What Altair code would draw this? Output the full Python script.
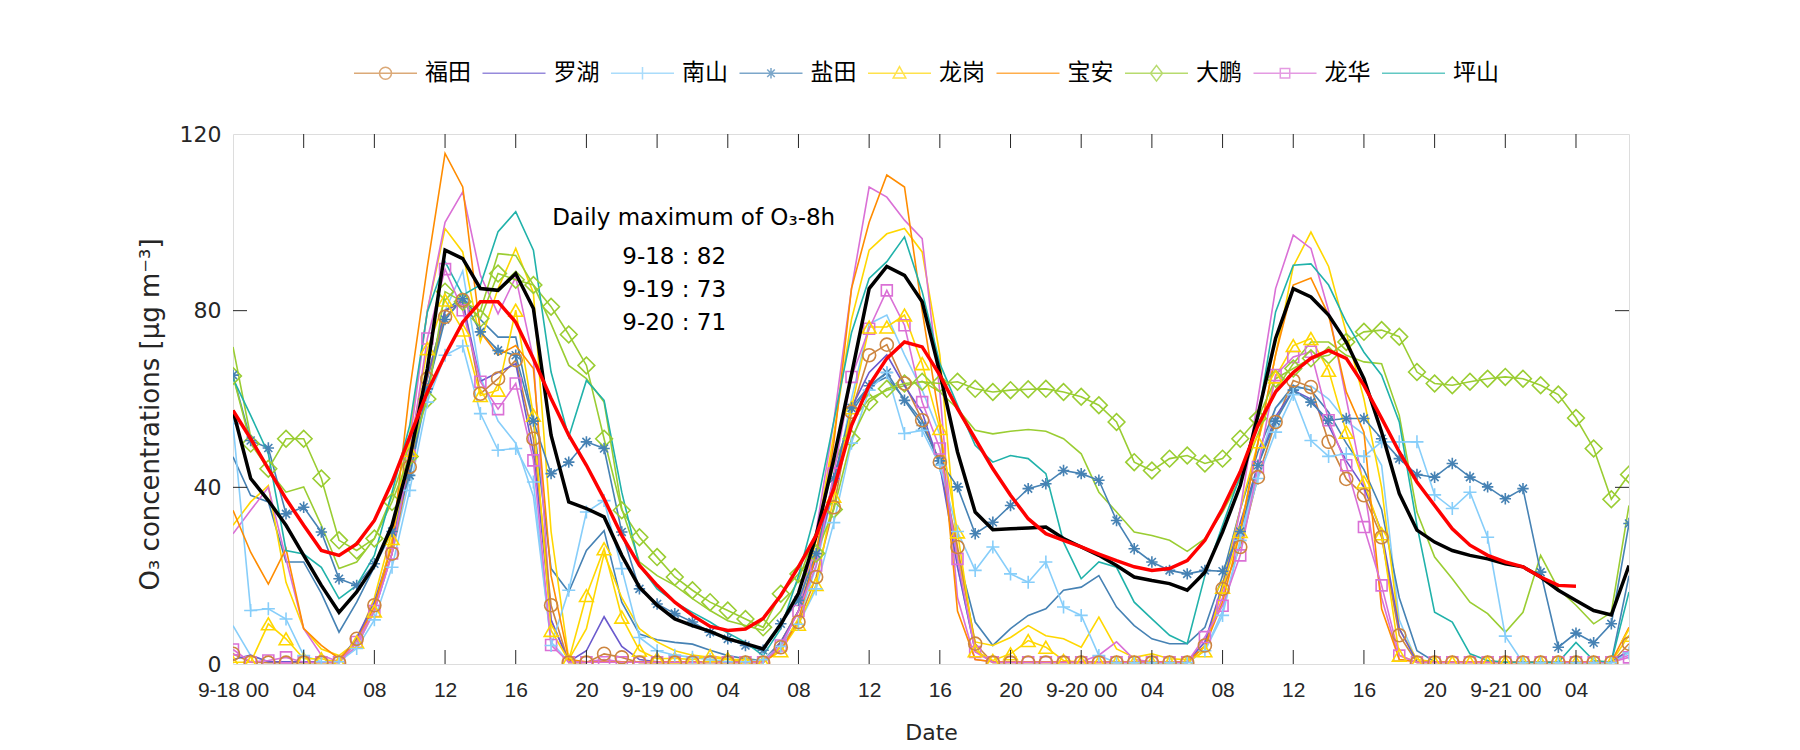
import altair as alt
import pandas as pd

# ---------------- axis ticks ----------------
hours = list(range(80))  # 9-18 00:00 ... 9-21 07:00
x_ticks = [0, 4, 8, 12, 16, 20, 24, 28, 32, 36, 40, 44, 48, 52, 56, 60, 64, 68, 72, 76]
x_tick_labels = ["9-18 00", "04", "08", "12", "16", "20",
                 "9-19 00", "04", "08", "12", "16", "20",
                 "9-20 00", "04", "08", "12", "16", "20",
                 "9-21 00", "04"]
y_ticks = [0, 40, 80, 120]

stations = ["福田", "罗湖", "南山", "盐田", "龙岗", "宝安", "大鹏", "龙华", "坪山"]
station_colors = ["#CD853F", "#6A5ACD", "#87CEFA", "#4682B4", "#FFD700",
                  "#FF8C00", "#9ACD32", "#DA70D6", "#20B2AA"]

# ---------------- station series (hourly O3) ----------------
futian = [2.3, 0.4, 0.3, 0.3, 0.3, 0.3, 0.3, 5.7, 13.3, 25.0,
          44.6, 64.6, 78.6, 82.4, 61.2, 64.6, 68.8, 51.0, 13.3, 0.3,
          0.3, 2.3, 1.5, 0.3, 0.3, 0.3, 0.3, 0.3, 0.3, 0.3,
          0.3, 3.8, 9.5, 19.7, 35.5, 57.1, 69.9, 72.3, 63.5, 55.2,
          45.7, 26.5, 4.6, 0.3, 0.3, 0.3, 0.3, 0.3, 0.3, 0.3,
          0.3, 0.3, 0.3, 0.3, 0.3, 4.2, 17.0, 26.5, 42.3, 54.8,
          64.2, 62.7, 50.3, 41.9, 38.2, 28.7, 6.5, 0.3, 0.3, 0.3,
          0.3, 0.3, 0.3, 0.3, 0.3, 0.3, 0.3, 0.3, 0.3, 4.6]
luohu = [1.0, 2.0, 0.5, 0.5, 0.5, 0.5, 0.5, 6.0, 14.0, 27.0,
         46.0, 65.0, 80.0, 82.0, 64.0, 66.0, 68.0, 48.0, 10.0, 0.5,
         3.0, 10.7, 4.0, 1.0, 0.5, 0.5, 0.5, 0.5, 0.5, 0.5,
         0.5, 5.0, 12.0, 24.0, 40.0, 58.0, 66.0, 70.0, 63.0, 57.0,
         45.0, 22.0, 3.0, 0.5, 0.5, 0.5, 0.5, 0.5, 0.5, 0.5,
         0.5, 0.5, 0.5, 0.5, 0.5, 5.0, 18.0, 32.0, 45.0, 56.0,
         62.0, 60.0, 54.0, 46.0, 40.0, 30.0, 8.0, 0.5, 0.5, 0.5,
         0.5, 0.5, 0.5, 0.5, 0.5, 0.5, 0.5, 0.5, 0.5, 3.0]
nanshan = [54.4, 12.1, 12.5, 10.2, 1.9, 0.5, 0.5, 3.5, 10.0, 21.9,
           39.3, 59.3, 69.9, 72.0, 56.7, 48.4, 48.8, 41.2, 4.2, 16.7,
           34.4, 37.0, 21.6, 6.0, 3.0, 2.0, 1.5, 1.0, 0.5, 0.5,
           1.0, 4.0, 9.0, 17.0, 32.0, 50.0, 62.0, 66.0, 52.2, 52.9,
           45.0, 30.0, 21.2, 26.5, 20.4, 18.5, 23.1, 12.9, 11.0, 1.9,
           0.3, 0.3, 0.3, 0.3, 0.3, 3.0, 11.0, 28.0, 42.0, 52.5,
           61.0, 50.6, 47.0, 47.6, 47.0, 50.3, 50.3, 50.3, 38.3, 35.2,
           38.9, 28.7, 6.3, 0.3, 0.3, 0.3, 0.3, 0.3, 0.3, 2.5]
yantian = [65.4, 50.6, 48.9, 34.0, 35.5, 29.9, 19.3, 17.8, 22.7, 30.0,
           42.7, 62.3, 78.0, 82.7, 75.2, 71.0, 69.9, 55.0, 43.1, 45.7,
           50.3, 48.8, 29.9, 17.0, 13.6, 11.4, 9.5, 7.2, 5.7, 4.2,
           3.1, 9.1, 14.4, 25.0, 42.0, 58.0, 63.0, 66.0, 59.7, 54.0,
           46.0, 40.1, 29.5, 32.1, 35.9, 39.7, 40.8, 43.8, 43.1, 41.6,
           32.5, 26.1, 23.1, 21.2, 20.4, 21.2, 21.0, 30.0, 45.0, 55.0,
           62.0, 59.3, 55.2, 55.6, 55.6, 51.0, 46.5, 42.9, 42.3, 45.4,
           42.3, 40.1, 37.4, 39.7, 20.8, 3.8, 7.0, 4.8, 9.1, 31.8]
longgang = [0.4, 0.4, 9.1, 5.7, 1.2, 1.2, 0.4, 5.0, 12.0, 28.4,
            48.4, 71.4, 82.4, 75.6, 60.8, 62.0, 80.1, 56.3, 7.6, 0.8,
            15.5, 26.1, 10.6, 3.1, 1.2, 1.3, 1.0, 1.9, 1.2, 0.4,
            0.4, 3.0, 9.0, 18.0, 38.0, 58.0, 76.3, 76.3, 79.0, 68.0,
            53.3, 29.9, 3.0, 0.8, 2.3, 5.3, 3.8, 0.8, 0.4, 0.4,
            0.4, 0.4, 0.4, 0.4, 0.4, 3.0, 17.4, 30.0, 50.3, 65.0,
            72.1, 73.7, 66.5, 52.5, 41.2, 29.5, 2.0, 0.4, 0.4, 0.4,
            0.4, 0.4, 0.4, 0.4, 0.4, 0.4, 0.4, 0.4, 0.4, 6.5]
baoan = [34.8, 25.3, 18.1, 26.1, 8.0, 4.2, 1.2, 5.0, 13.0, 27.0,
         62.0, 90.0, 115.6, 108.0, 75.2, 69.9, 72.1, 66.9, 20.0, 1.0,
         0.5, 0.5, 0.5, 0.5, 0.5, 0.5, 0.5, 0.5, 0.5, 0.5,
         0.5, 3.0, 10.0, 25.0, 50.0, 85.0, 100.0, 110.7, 108.0, 80.0,
         55.0, 12.0, 1.0, 0.5, 0.5, 0.5, 0.5, 0.5, 0.5, 0.5,
         0.5, 0.5, 0.5, 0.5, 0.5, 4.0, 14.0, 30.0, 50.0, 70.0,
         85.8, 87.4, 79.0, 61.6, 52.5, 12.5, 1.0, 0.5, 0.5, 0.5,
         0.5, 0.5, 0.5, 0.5, 0.5, 0.5, 0.5, 0.5, 0.5, 8.3]
dapeng = [65.2, 49.9, 44.2, 51.0, 51.0, 42.0, 28.0, 25.7, 28.4, 36.7,
          47.0, 60.0, 84.3, 82.0, 78.2, 88.4, 87.0, 85.8, 80.9, 74.6,
          67.6, 51.0, 34.8, 28.7, 24.2, 19.7, 16.7, 14.0, 12.1, 10.2,
          8.3, 15.9, 20.4, 25.0, 35.0, 51.0, 59.3, 62.3, 63.5, 63.9,
          63.5, 63.9, 62.3, 61.6, 62.0, 62.2, 62.3, 61.6, 60.5, 58.6,
          54.8, 45.7, 43.8, 46.5, 47.2, 45.4, 46.5, 51.0, 55.6, 64.6,
          66.9, 69.2, 69.9, 72.9, 75.2, 75.6, 74.1, 66.1, 63.5, 63.1,
          63.9, 64.6, 65.0, 64.6, 63.1, 61.0, 55.7, 48.8, 37.3, 42.9]
longhua = [3.3, 0.4, 0.8, 1.5, 0.4, 0.4, 0.4, 5.0, 12.0, 25.0,
           47.2, 73.7, 89.4, 80.1, 63.9, 57.7, 63.5, 46.1, 4.3, 0.4,
           0.4, 0.4, 0.4, 0.4, 0.4, 0.4, 0.4, 0.4, 0.4, 0.4,
           0.4, 4.2, 12.0, 22.3, 43.1, 65.0, 75.9, 84.6, 76.7, 59.3,
           48.8, 23.8, 2.7, 0.4, 0.4, 0.4, 0.4, 0.4, 0.4, 0.4,
           0.4, 0.4, 0.4, 0.4, 0.4, 6.1, 13.2, 24.6, 44.6, 65.4,
           69.5, 70.7, 55.2, 45.0, 31.0, 17.8, 1.9, 0.4, 0.4, 0.4,
           0.4, 0.4, 0.4, 0.4, 0.4, 0.4, 0.4, 0.4, 0.4, 1.5]
pingshan = [64.6, 56.3, 47.6, 25.7, 24.9, 21.9, 14.8, 17.8, 24.6, 38.9,
            54.0, 79.7, 91.1, 83.5, 85.8, 97.9, 102.4, 93.7, 66.1, 51.4,
            64.2, 59.7, 38.9, 22.3, 17.0, 14.0, 11.7, 9.5, 7.0, 4.9,
            1.9, 8.0, 20.0, 35.0, 55.0, 75.0, 87.3, 91.1, 96.7, 84.3,
            68.0, 58.6, 49.5, 45.7, 47.2, 46.5, 43.1, 27.6, 19.3, 23.1,
            21.9, 14.0, 10.2, 6.5, 4.6, 20.0, 31.4, 42.7, 55.6, 79.7,
            90.3, 90.6, 85.8, 77.4, 70.6, 65.4, 54.8, 31.4, 11.7, 9.5,
            2.3, 0.8, 0.4, 0.4, 0.4, 0.4, 4.9, 0.8, 0.4, 16.3]

# second (plain-line) series drawn in the same station colours
nanshan_2 = [8.7, 1.9, 0.5, 0.5, 0.5, 0.5, 0.5, 4.0, 12.0, 25.0,
             42.0, 62.0, 80.0, 89.0, 65.0, 55.0, 50.0, 38.0, 5.0, 0.5,
             0.5, 0.5, 0.5, 0.5, 0.5, 0.5, 0.5, 0.5, 0.5, 0.5,
             0.5, 4.0, 10.0, 22.0, 40.0, 60.0, 77.0, 79.0, 70.0, 62.0,
             52.0, 22.0, 3.0, 0.5, 0.5, 0.5, 0.5, 0.5, 0.5, 0.5,
             0.5, 0.5, 0.5, 0.5, 0.5, 3.0, 12.0, 28.0, 45.0, 58.0,
             62.0, 63.0, 60.0, 55.0, 52.0, 45.0, 10.0, 0.5, 0.5, 0.5,
             0.5, 0.5, 0.5, 0.5, 0.5, 0.5, 0.5, 0.5, 0.5, 3.0]
yantian_2 = [46.9, 38.2, 36.7, 23.1, 23.1, 16.0, 7.2, 14.0, 22.0, 30.0,
             45.0, 62.0, 80.0, 83.0, 78.0, 74.0, 74.0, 55.0, 21.6, 16.3,
             25.7, 30.2, 14.0, 6.8, 5.5, 4.9, 4.5, 3.1, 1.9, 1.2,
             0.8, 5.0, 12.0, 25.0, 42.0, 57.0, 63.0, 65.0, 60.0, 55.0,
             45.0, 25.0, 9.5, 4.2, 8.0, 11.0, 12.5, 16.7, 17.4, 20.0,
             12.9, 8.7, 5.7, 4.6, 4.6, 8.3, 20.0, 35.0, 48.0, 58.0,
             63.0, 62.0, 57.0, 50.0, 44.0, 35.0, 15.0, 3.0, 0.5, 0.5,
             0.5, 0.5, 0.5, 0.5, 0.5, 0.5, 0.5, 0.5, 0.5, 20.0]
longgang_2 = [31.4, 36.7, 40.4, 18.5, 8.0, 3.4, 1.9, 5.0, 15.0, 30.0,
              52.0, 80.0, 98.6, 93.3, 73.0, 85.0, 94.1, 84.0, 30.0, 1.0,
              8.0, 25.0, 15.0, 8.0, 5.0, 3.0, 2.0, 1.5, 1.0, 1.0,
              0.5, 5.0, 12.0, 28.0, 52.0, 78.0, 93.7, 97.4, 98.6, 93.3,
              70.0, 25.0, 5.0, 4.2, 6.0, 8.7, 6.4, 5.7, 3.8, 10.6,
              3.4, 1.5, 2.3, 1.2, 1.0, 4.0, 18.0, 35.0, 50.0, 70.0,
              90.0, 97.8, 90.0, 75.0, 60.0, 40.0, 8.0, 1.0, 0.5, 0.5,
              0.5, 0.5, 0.5, 0.5, 0.5, 0.5, 0.5, 0.5, 0.5, 3.0]
dapeng_2 = [71.8, 51.4, 44.0, 38.9, 40.1, 31.4, 21.6, 23.1, 28.4, 38.0,
            50.0, 65.0, 80.0, 82.0, 80.0, 92.9, 92.5, 85.8, 77.0, 67.6,
            64.6, 59.3, 35.2, 23.1, 20.0, 17.8, 14.8, 12.1, 9.8, 8.7,
            7.6, 12.0, 19.0, 30.0, 45.0, 55.0, 60.0, 62.0, 63.0, 64.0,
            61.6, 57.8, 52.9, 52.1, 52.7, 53.1, 52.7, 51.0, 47.6, 38.9,
            34.4, 29.9, 29.1, 28.0, 25.5, 28.4, 34.4, 41.9, 52.0, 62.0,
            68.0, 72.9, 72.9, 69.9, 68.4, 68.0, 56.3, 34.4, 24.2, 19.3,
            14.0, 11.4, 7.2, 11.7, 24.6, 17.0, 13.3, 9.1, 11.7, 35.9]
longhua_2 = [29.5, 34.8, 40.0, 23.8, 8.0, 2.0, 0.5, 4.0, 12.0, 25.0,
             50.0, 80.0, 100.0, 106.9, 88.0, 79.3, 87.6, 69.1, 10.0, 0.5,
             0.5, 1.0, 0.5, 0.5, 0.5, 0.5, 0.5, 0.5, 0.5, 0.5,
             0.5, 4.0, 12.0, 30.0, 55.0, 85.0, 108.0, 105.7, 100.5, 96.3,
             61.6, 15.0, 1.0, 0.5, 0.5, 0.5, 0.5, 0.5, 0.5, 2.0,
             5.0, 1.0, 0.5, 0.5, 0.5, 5.0, 15.0, 35.0, 60.0, 85.0,
             97.1, 94.1, 80.0, 60.0, 40.0, 15.0, 1.0, 0.5, 0.5, 0.5,
             0.5, 0.5, 0.5, 0.5, 0.5, 0.5, 0.5, 0.5, 0.5, 2.0]

# thick black and red curves
black_curve = [57.4, 42.0, 37.0, 31.4, 24.6, 17.8, 11.7, 16.3, 22.3, 31.4,
               46.5, 66.9, 93.7, 91.8, 85.0, 84.6, 88.4, 80.5, 51.8, 36.7,
               35.2, 33.3, 24.6, 17.4, 13.3, 10.2, 8.7, 7.4, 5.7, 4.6,
               3.4, 9.0, 16.0, 29.0, 46.5, 65.5, 85.0, 90.0, 88.0, 82.0,
               66.0, 48.0, 34.4, 30.4, 30.6, 30.8, 31.0, 28.4, 26.5, 24.6,
               22.3, 19.7, 18.9, 18.2, 16.7, 20.8, 29.9, 40.4, 56.3, 73.7,
               85.0, 83.1, 79.0, 72.9, 64.6, 52.5, 38.6, 30.3, 27.6, 25.7,
               24.6, 23.8, 22.7, 22.0, 19.7, 16.7, 14.4, 12.1, 11.1, 22.3]
red_curve = [57.4, 51.0, 44.2, 37.4, 31.4, 25.7, 24.6, 27.2, 32.5, 41.2,
             51.4, 61.6, 69.9, 77.4, 82.0, 82.0, 77.4, 69.1, 60.1, 51.8,
             45.0, 37.4, 29.1, 22.3, 17.8, 14.0, 11.0, 8.5, 7.6, 7.9,
             10.3, 15.5, 22.0, 29.1, 39.7, 54.0, 63.1, 69.2, 72.9, 71.8,
             65.4, 57.8, 51.0, 44.2, 38.2, 32.9, 29.5, 28.0, 26.5, 24.9,
             23.4, 22.0, 21.2, 21.6, 23.4, 28.0, 35.2, 43.5, 54.0, 61.6,
             66.0, 69.2, 71.0, 69.2, 63.1, 55.6, 48.0, 41.2, 35.9, 30.6,
             26.9, 24.6, 23.1, 22.0, 19.7, 17.8, 17.6]

# annotation text (placed in data coordinates, like MATLAB text())
note_lines = ["Daily maximum of O₃-8h", "9-18 : 82", "9-19 : 73", "9-20 : 71"]
note_h = [18.06, 22.03, 22.03, 22.03]
note_v = [101.0, 92.2, 84.6, 77.2]

# ---------------- styles ----------------
PLUS = "M-1,0L1,0M0,-1L0,1"
STAR = "M-1,0L1,0M0,-1L0,1M-0.7,-0.7L0.7,0.7M-0.7,0.7L0.7,-0.7"
# drawn in this order (福田 on top)
marker_stations = ["龙华", "大鹏", "龙岗", "盐田", "南山", "福田"]
marker_shapes = ["square", "diamond", "triangle-up", STAR, PLUS, "circle"]
marker_sizes = [120, 280, 190, 130, 170, 170]

# legend symbols: line segment with the station marker on it (unit = half segment)
legend_paths = [
    "M-1,0L1,0M-0.19,0A0.19,0.19,0,1,1,0.19,0A0.19,0.19,0,1,1,-0.19,0",
    "M-1,0L1,0",
    "M-1,0L1,0M0,-0.2L0,0.2",
    "M-1,0L1,0M0,-0.17L0,0.17M-0.12,-0.12L0.12,0.12M-0.12,0.12L0.12,-0.12",
    "M-1,0L1,0M0,-0.21L0.2,0.15L-0.2,0.15Z",
    "M-1,0L1,0",
    "M-1,0L1,0M0,-0.25L0.19,0L0,0.25L-0.19,0Z",
    "M-1,0L1,0M-0.15,-0.15L0.15,-0.15L0.15,0.15L-0.15,0.15Z",
    "M-1,0L1,0",
]

color_of = dict(zip(stations, station_colors))
primary = dict(zip(stations, [futian, luohu, nanshan, yantian, longgang,
                              baoan, dapeng, longhua, pingshan]))
secondary = {"南山": nanshan_2, "盐田": yantian_2, "龙岗": longgang_2,
             "大鹏": dapeng_2, "龙华": longhua_2}
for name, vals in list(primary.items()) + list(secondary.items()):
    assert len(vals) == len(hours), (name, len(vals))
assert len(black_curve) == 80


def long_df(d):
    rows = []
    for s, vals in d.items():
        for h, v in zip(hours, vals):
            rows.append({"h": h, "v": v, "station": s, "col": color_of[s]})
    return pd.DataFrame(rows)


prim_df = long_df(primary)
sec_df = long_df(secondary)
black_df = pd.DataFrame({"h": hours, "v": black_curve})
red_df = pd.DataFrame({"h": hours[:len(red_curve)], "v": red_curve})
note_df = pd.DataFrame({"h": note_h, "v": note_v, "txt": note_lines})
legend_df = pd.DataFrame({"h": [1] * 9, "v": [-60] * 9, "station": stations})
xt_df = pd.DataFrame({"h": x_ticks[1:]})
yt_df = pd.DataFrame({"v": y_ticks[1:-1]})

W, H = 1396, 530
TICK = 14
AXC = "#262626"
xs = alt.Scale(domain=[0, 79], nice=False, zero=False)
ys = alt.Scale(domain=[0, 120], nice=False, zero=False)
cs = alt.Scale(domain=stations, range=station_colors)

label_expr = "[" + ",".join("'%s'" % t for t in x_tick_labels) + "][round(datum.value/4)]"
x_axis = alt.Axis(values=x_ticks, labelExpr=label_expr, ticks=False, domain=False, grid=False,
                  labelFlush=False, labelOverlap=False, labelFont="Liberation Sans",
                  labelFontSize=21, labelColor=AXC, labelPadding=15,
                  title="Date", titleFont="DejaVu Sans", titleFontSize=22,
                  titleFontWeight="normal", titleColor=AXC, titlePadding=22)
y_axis = alt.Axis(values=y_ticks, ticks=False, domain=False, grid=False,
                  labelFont="DejaVu Sans", labelFontSize=22, labelColor=AXC, labelPadding=12,
                  title="O₃ concentrations [μg m⁻³]", titleFont="DejaVu Sans", titleFontSize=26,
                  titleFontWeight="normal", titleColor=AXC, titlePadding=16, titleY=280)


def X(field="h"):
    return alt.X(f"{field}:Q", scale=xs, axis=x_axis)


def Y(field="v"):
    return alt.Y(f"{field}:Q", scale=ys, axis=y_axis)


def S():
    # colours are taken directly from the station colour list (no extra scale/legend)
    return alt.Stroke("col:N", scale=None)


sec_lines = alt.Chart(sec_df).mark_line(strokeWidth=1.6, clip=True).encode(
    x=X(), y=Y(), stroke=S(), detail="station:N")
prim_lines = alt.Chart(prim_df).mark_line(strokeWidth=1.6, clip=True).encode(
    x=X(), y=Y(), stroke=S(), detail="station:N")

marker_layers = []
for st, shp, sz in zip(marker_stations, marker_shapes, marker_sizes):
    df = pd.DataFrame({"h": hours, "v": primary[st], "col": color_of[st]})
    marker_layers.append(
        alt.Chart(df).mark_point(filled=False, strokeWidth=1.6, opacity=1, clip=True).encode(
            x=X(), y=Y(), stroke=S(), shape=alt.value(shp), size=alt.value(sz)))

black = alt.Chart(black_df).mark_line(color="black", strokeWidth=3.5, clip=True).encode(x=X(), y=Y())
red = alt.Chart(red_df).mark_line(color="#FF0000", strokeWidth=3.5, clip=True).encode(x=X(), y=Y())

notes = alt.Chart(note_df).mark_text(align="left", baseline="middle", font="DejaVu Sans",
                                     fontSize=23, color="black").encode(x=X(), y=Y(), text="txt:N")

tick_b = alt.Chart(xt_df).mark_rule(color=AXC, strokeWidth=1).encode(
    x=X(), y=alt.value(H), y2=alt.value(H - TICK))
tick_t = alt.Chart(xt_df).mark_rule(color=AXC, strokeWidth=1).encode(
    x=X(), y=alt.value(0), y2=alt.value(TICK))
tick_l = alt.Chart(yt_df).mark_rule(color=AXC, strokeWidth=1).encode(
    y=Y(), x=alt.value(0), x2=alt.value(TICK))
tick_r = alt.Chart(yt_df).mark_rule(color=AXC, strokeWidth=1).encode(
    y=Y(), x=alt.value(W - TICK), x2=alt.value(W))

leg = alt.Legend(orient="none", legendX=120, legendY=-93.5, direction="horizontal", columns=9,
                 title=None, symbolSize=3969, symbolStrokeWidth=1.5, labelFont="Noto Sans CJK SC",
                 labelFontSize=23, labelOffset=7, columnPadding=8.5, padding=0, labelColor="black")
legend_layer = alt.Chart(legend_df).mark_point(filled=False, strokeWidth=1.5, clip=True).encode(
    x=X(), y=Y(),
    color=alt.Color("station:N", scale=cs, legend=leg),
    shape=alt.Shape("station:N", scale=alt.Scale(domain=stations, range=legend_paths), legend=leg),
)

chart = alt.layer(sec_lines, prim_lines, *marker_layers, black, red, notes,
                  tick_b, tick_t, tick_l, tick_r, legend_layer).properties(
    width=W, height=H,
    autosize=alt.AutoSizeParams(type="none"),
    padding={"left": 225, "top": 126, "right": 160, "bottom": 90},
).configure_view(stroke=AXC, strokeWidth=1).configure(background="white")

chart.save("out.html", embed_options={"renderer": "svg", "actions": False})
